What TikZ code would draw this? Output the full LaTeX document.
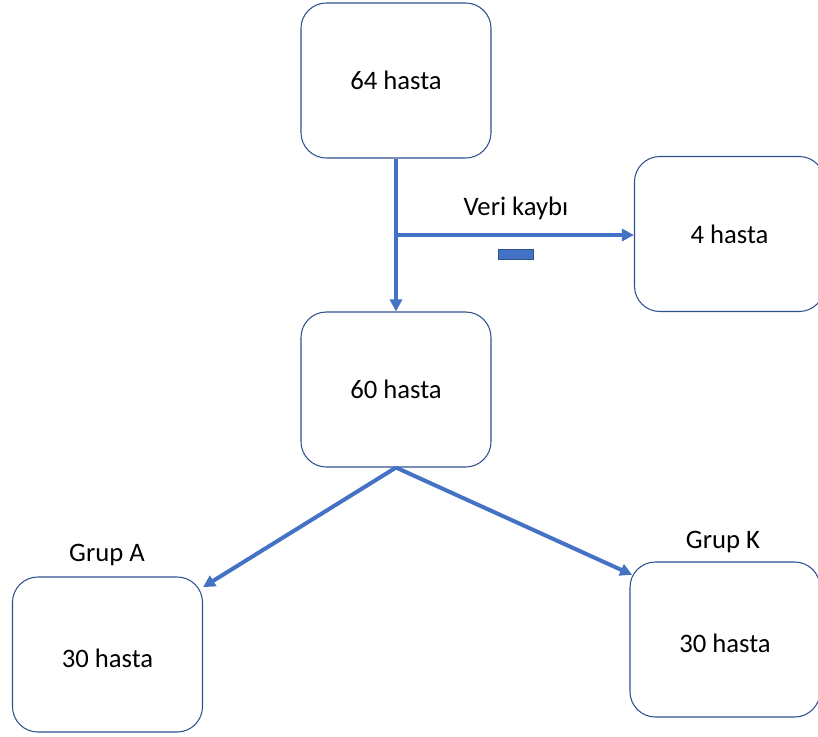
\documentclass[tikz,border=0pt]{standalone}
\usepackage{fontspec}
\setmainfont{Carlito}
\usepackage{tikz}
\usetikzlibrary{arrows.meta,positioning,calc}
\definecolor{fleche}{RGB}{68,114,196}
\definecolor{cadre}{RGB}{47,82,143}

\begin{document}
\begin{tikzpicture}[x=0.75pt, y=-0.75pt,
    every node/.style={font=\fontsize{20}{24}\selectfont},
    boite/.style={draw=cadre, line width=0.8pt, rounded corners=19pt,
                  minimum width=142.5pt, minimum height=116.25pt, inner sep=0pt},
    bas/.style={text height=20pt, text depth=0pt},
    fl/.style={fleche, line width=3pt, -{Triangle[length=9pt,width=9pt]}}]
    \useasboundingbox (0,0) rectangle (818,736);
    % boites
    \node[boite] (total) at (396,80.5) {64 hasta};
    \node[boite] (perte) at (729.5,234) {4 hasta};
    \node[boite] (reste) at (396,389.5) {60 hasta};
    \node[boite,bas] (ga) at (107.5,654.5) {30 hasta};
    \node[boite,bas] (gk) at (725,639.5) {30 hasta};
    % etiquettes
    \node (lperte) at (516,208) {Veri kaybı};
    \node (lga) at (107,555) {Grup A};
    \node (lgk) at (723,542) {Grup K};
    \draw[cadre, fill=fleche, line width=0.5pt] (498,249) rectangle (533,259);
    % fleches
    \coordinate (bif) at ($(total.south)!0.5!(reste.north)$);
    \draw[fl] (total.south) -- (reste.north);
    \draw[fl] (bif) -- (bif -| perte.west);
    \coordinate (depart) at (reste.south);
    \draw[fl] (depart) -- ([yshift=-8pt]ga.north east);
    \draw[fl] (depart) -- ([yshift=-10pt,xshift=2pt]gk.north west);
\end{tikzpicture}
\end{document}
